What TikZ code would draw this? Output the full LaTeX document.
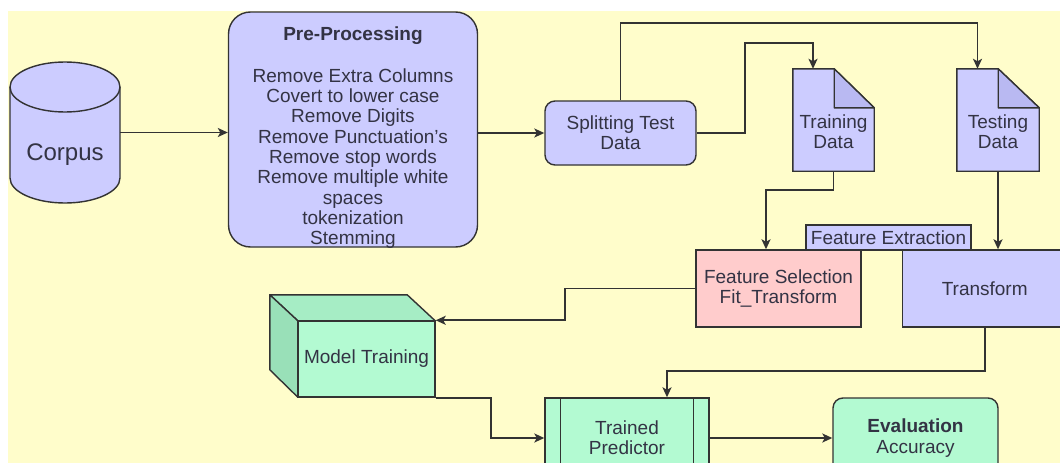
\documentclass[tikz,border=0pt]{standalone}
\usepackage{fontspec}
\setmainfont{Liberation Sans}
\usetikzlibrary{arrows.meta,calc}
\definecolor{bgy}{HTML}{FFFDCB}
\definecolor{blu}{HTML}{CCCCFF}
\definecolor{bluf}{HTML}{B9B9F2}
\definecolor{pnk}{HTML}{FFCCCC}
\definecolor{grn}{HTML}{B3FAD2}
\definecolor{grnt}{HTML}{A6EDC5}
\definecolor{grnl}{HTML}{99E0B8}
\definecolor{linec}{HTML}{333333}
\definecolor{txt}{HTML}{333344}
\begin{document}
\begin{tikzpicture}[x=1pt,y=-1pt,
  every node/.style={font=\fontsize{19}{20.3}\selectfont, text=txt, align=center, inner sep=0pt},
  shp/.style={draw=linec, line width=1.4pt},
  conn/.style={draw=linec, line width=1.7pt, -{Stealth[length=10pt,width=9pt,inset=2.5pt]}},
  ghost/.style={draw=none, fill=none},
]
\useasboundingbox (0,0) rectangle (1060,463);
\fill[white] (0,0) rectangle (1060,463);
\fill[bgy] (8,11) rectangle (1062,470);

% Corpus cylinder
\node[ghost, minimum width=110, minimum height=141] (corpus) at (65,132.5) {};
\path[shp, fill=blu] (10,87) -- (10,178) arc[start angle=180, end angle=360, x radius=55pt, y radius=25pt]
  -- (120,87) arc[start angle=0, end angle=180, x radius=55pt, y radius=25pt] -- cycle;
\draw[shp] (10,87) arc[start angle=180, end angle=360, x radius=55pt, y radius=25pt];
\node[font=\fontsize{24}{28}\selectfont] (corpuslbl) at (65,155) {Corpus};

% Pre-processing
\node[shp, fill=blu, rounded corners=22pt, minimum width=249, minimum height=235] (pre) at (353,129.5) {};
\node (prelbl) at (353,137.5)
  {\textbf{Pre-Processing}\\[22pt]Remove Extra Columns\\Covert to lower case\\Remove Digits\\Remove Punctuation's\\Remove stop words\\Remove multiple white\\spaces\\tokenization\\Stemming};

% Splitting
\node[shp, fill=blu, rounded corners=10pt, minimum width=151, minimum height=64] (split) at (620.5,133) {Splitting Test\\Data};

% Training data document
\node[ghost, minimum width=81, minimum height=102] (train) at (833.5,120) {};
\path[shp, fill=blu] (train.north west) -- ([xshift=-40pt]train.north east) -- ([yshift=-39pt]train.north east)
  -- (train.south east) -- (train.south west) -- cycle;
\path[shp, fill=bluf, line join=round] ([xshift=-40pt]train.north east) -- ([xshift=-40pt,yshift=-39pt]train.north east) -- ([yshift=-39pt]train.north east) -- cycle;
\node (trainlbl) at (833.5,132) {Training\\Data};

% Testing data document
\node[ghost, minimum width=82, minimum height=102] (test) at (998,120) {};
\path[shp, fill=blu] (test.north west) -- ([xshift=-41pt]test.north east) -- ([yshift=-39pt]test.north east)
  -- (test.south east) -- (test.south west) -- cycle;
\path[shp, fill=bluf, line join=round] ([xshift=-41pt]test.north east) -- ([xshift=-41pt,yshift=-39pt]test.north east) -- ([yshift=-39pt]test.north east) -- cycle;
\node (testlbl) at (998,132) {Testing\\Data};

% Feature boxes
\node[shp, fill=pnk, minimum width=165, minimum height=77] (fs) at (778.5,288.5) {Feature Selection\\Fit\_Transform};
\node[shp, fill=blu, minimum width=165, minimum height=25] (fe) at (888.5,237.5) {Feature Extraction};
\node[shp, fill=blu, minimum width=164, minimum height=77, anchor=west] (tr) at (902,288.5) {Transform};

% Model training cube
\node[ghost, minimum width=137, minimum height=76] (model) at (366.5,359) {};
\path[shp, fill=grnt, line join=round] (model.north west) -- ++(-28,-26) -- ([xshift=-28pt,yshift=26pt]model.north east) -- (model.north east) -- cycle;
\path[shp, fill=grnl, line join=round] (model.north west) -- ++(-28,-26) -- ++(0,75) -- (model.south west) -- cycle;
\node[shp, fill=grn, minimum width=137, minimum height=76] (modelf) at (366.5,359) {Model Training};

% Trained predictor
\node[shp, fill=grn, minimum width=164, minimum height=80] (tp) at (627,438) {Trained\\Predictor};
\draw[shp] ([xshift=16pt]tp.north west) -- ([xshift=16pt]tp.south west);
\draw[shp] ([xshift=-16pt]tp.north east) -- ([xshift=-16pt]tp.south east);

% Evaluation
\node[shp, fill=grn, rounded corners=10pt, minimum width=165, minimum height=80] (ev) at (915.5,438) {\textbf{Evaluation}\\Accuracy};

% Connectors
\draw[conn] (corpus.east) -- (corpus.east -| pre.west);
\draw[conn] (pre.east |- split.west) -- (split.west);
\draw[conn] (split.north) -- ++(0,-77) -| ([xshift=-20.5pt]test.north);
\draw[conn] (split.east) -- ++(48,0) -- ++(0,-90) -| ([xshift=-20.5pt]train.north);
\draw[conn] (train.south) -- ++(0,19) -| ([xshift=-12.5pt]fs.north);
\draw[conn] (test.south) -- (test.south |- tr.north);
\draw[conn] (fs.west) -- ++(-130,0) |- (modelf.north east);
\draw[conn] (modelf.south east) -- ++(55,0) |- (tp.west);
\draw[conn] (tr.south) -- ++(0,43) -| ([xshift=40pt]tp.north);
\draw[conn] (tp.east) -- (ev.west);
\end{tikzpicture}
\end{document}
